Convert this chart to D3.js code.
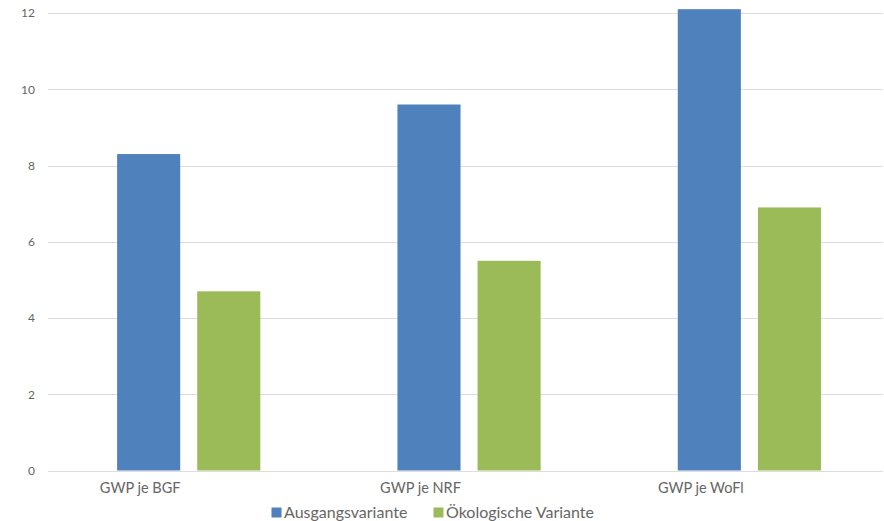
<!DOCTYPE html>
<html><head><meta charset="utf-8">
<script src="https://cdn.jsdelivr.net/npm/d3@7"></script>
<style>body{margin:0;background:#fff}svg{display:block}</style>
</head><body>
<svg id="c" width="884" height="521"></svg>
<script>
const categories = ["GWP je BGF", "GWP je NRF", "GWP je WoFl"];
const seriesNames = ["Ausgangsvariante", "Ökologische Variante"];
const ausgangs = [8.3, 9.6, 12.1];
const oekologisch = [4.7, 5.5, 6.9];
const yTicks = [0, 2, 4, 6, 8, 10, 12];
const colors = ["#4F81BD", "#9BBB59"];

const svg = d3.select("#c");
const font = "Lato, 'Open Sans', sans-serif";
const W = 884, H = 521;
const plotL = 48, plotR = 883, plotT = 13, plotB = 470.5;
const y = d3.scaleLinear().domain([0, 12]).range([plotB, plotT]);
// category bands (Excel layout: bands measured from left edge)
const x = d3.scaleBand().domain(categories).range([0, 841]);
const inner = d3.scaleBand().domain([0, 1]).range([0, x.bandwidth()])
  .paddingInner(0.2125).paddingOuter(0.856).align(0.854);

// gridlines
svg.append("g").selectAll("line").data(yTicks).join("line")
  .attr("x1", plotL).attr("x2", plotR)
  .attr("y1", d => Math.round(y(d)) + 0.5).attr("y2", d => Math.round(y(d)) + 0.5)
  .attr("stroke", "#DDDDDD").attr("stroke-width", 1);

// y axis labels
const yAxis = d3.axisLeft(y).tickValues(yTicks).tickSize(0).tickPadding(0);
const ga = svg.append("g").attr("transform", `translate(${plotL - 13},0)`).call(yAxis);
ga.select(".domain").remove();
ga.selectAll("text").attr("font-family", font).attr("font-size", 12).attr("fill", "#666666");

const data = [ausgangs, oekologisch];
data.forEach((vals, si) => {
  svg.append("g").selectAll("rect").data(vals).join("rect")
    .attr("x", (d, i) => x(categories[i]) + inner(si))
    .attr("width", inner.bandwidth())
    .attr("y", d => y(d))
    .attr("height", d => y(0) - y(d))
    .attr("fill", colors[si]);
});

// x axis labels
const xAxis = d3.axisBottom(x).tickSize(0).tickPadding(0);
const gx = svg.append("g").attr("transform", `translate(0,${plotB + 12})`).call(xAxis);
gx.select(".domain").remove();
gx.selectAll("text").attr("font-family", font).attr("font-size", 14.5).attr("fill", "#666666").attr("dy", "0.71em");

// legend
const legX = [271.5, 433.5];
const lg = svg.append("g");
seriesNames.forEach((n, i) => {
  lg.append("rect").attr("x", legX[i]).attr("y", 507.5).attr("width", 10).attr("height", 10).attr("fill", colors[i]);
  lg.append("text").attr("x", legX[i] + 12.5).attr("y", 517.5).attr("font-family", font).attr("font-size", 16)
    .attr("fill", "#666666").text(n);
});
</script>
</body></html>
